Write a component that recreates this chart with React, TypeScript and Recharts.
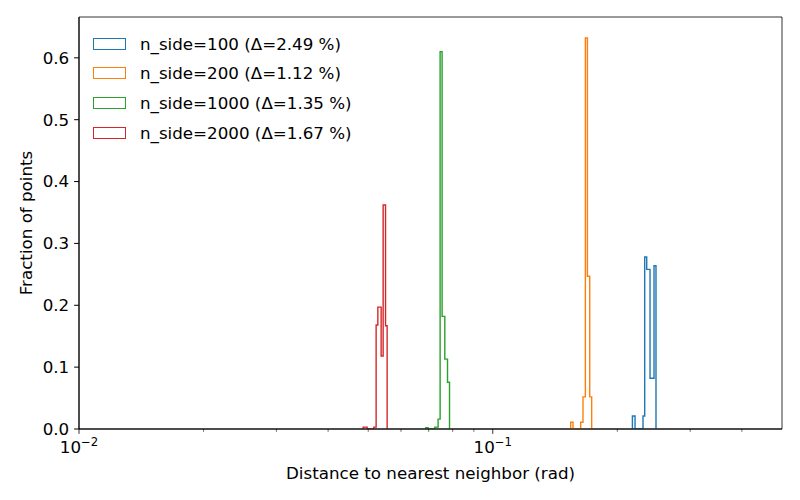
import React from 'react';
import { LineChart, Line, XAxis, YAxis, ReferenceArea } from 'recharts';

// Histogram bin edges (rad) and bin heights (fraction of points)
const edges100 = [0.2175, 0.2207, 0.2307, 0.2329, 0.2355, 0.2399, 0.2453, 0.248];
const heights100 = [0.021, 0, 0.021, 0.278, 0.258, 0.082, 0.264];

const edges200 = [0.1543, 0.1563, 0.1631, 0.1652, 0.1674, 0.1693, 0.1715, 0.1734];
const heights200 = [0.011, 0, 0.011, 0.052, 0.632, 0.247, 0.052];

const edges1000 = [0.06889, 0.06978, 0.07243, 0.07377, 0.0746, 0.07543, 0.07657, 0.07773, 0.0786];
const heights1000 = [0.002, 0, 0.003, 0.016, 0.61, 0.182, 0.113, 0.0755];

const edges2000 = [0.04861, 0.0497, 0.05159, 0.05225, 0.05275, 0.05373, 0.05433, 0.05506, 0.05555];
const heights2000 = [0.003, 0, 0.003, 0.168, 0.197, 0.118, 0.362, 0.167];

const seriesLabels = [
  'n_side=100 (Δ=2.49 %)',
  'n_side=200 (Δ=1.12 %)',
  'n_side=1000 (Δ=1.35 %)',
  'n_side=2000 (Δ=1.67 %)',
];
const seriesColors = ['#1f77b4', '#ff7f0e', '#2ca02c', '#d62728'];

const xDomain = [0.01, 0.5];
const yDomain = [0, 0.666];
const majorTicks = [0.01, 0.1];
const xTicks = [0.01, 0.02, 0.03, 0.04, 0.05, 0.06, 0.07, 0.08, 0.09, 0.1, 0.2, 0.3, 0.4];
const yTicks = [0, 0.1, 0.2, 0.3, 0.4, 0.5, 0.6];

const FONT = 'DejaVu Sans, sans-serif';

// outline of a step histogram: start at baseline, one point per bin, back to baseline
const toSteps = (edges: number[], heights: number[]) => {
  const pts = [{ x: edges[0], y: 0 }];
  heights.forEach((h, i) => pts.push({ x: edges[i], y: h }));
  pts.push({ x: edges[edges.length - 1], y: 0 });
  return pts;
};

const series = [
  toSteps(edges100, heights100),
  toSteps(edges200, heights200),
  toSteps(edges1000, heights1000),
  toSteps(edges2000, heights2000),
];

const XTick = (props: any) => {
  const { x, y, payload } = props;
  const v = payload.value;
  const major = majorTicks.some((m) => Math.abs(m - v) < 1e-9);
  const exp = Math.round(Math.log10(v));
  return (
    <g>
      <line x1={x} x2={x} y1={y} y2={y + (major ? 4.9 : 2.8)} stroke="#000" strokeWidth={major ? 0.8 : 0.6} />
      {major && (
        <text x={x} y={y + 24} textAnchor="middle" fontSize={16.7} fontFamily={FONT} fill="#000">
          10
          <tspan dy={-7} fontSize={11.7}>
            −{Math.abs(exp)}
          </tspan>
        </text>
      )}
    </g>
  );
};

const App = () => {
  return (
    <div style={{ position: 'relative', width: 800, height: 500, background: '#fff', fontFamily: FONT }}>
      <style>{'body{margin:0}'}</style>
      <LineChart width={800} height={500} data={series[0]} margin={{ top: 17, right: 18, left: 0, bottom: 0 }}>
        <XAxis
          dataKey="x"
          type="number"
          scale="log"
          domain={xDomain}
          allowDataOverflow
          ticks={xTicks}
          interval={0}
          tick={<XTick />}
          tickLine={false}
          tickSize={0}
          tickMargin={0}
          height={71}
          stroke="#000"
          label={(p: any) => {
            const vb = p.viewBox;
            return (
              <text x={vb.x + vb.width / 2} y={vb.y + 50} textAnchor="middle" fontSize={16.7} fontFamily={FONT} fill="#000">
                Distance to nearest neighbor (rad)
              </text>
            );
          }}
        />
        <YAxis
          type="number"
          domain={yDomain}
          allowDataOverflow
          ticks={yTicks}
          interval={0}
          tickFormatter={(v: number) => v.toFixed(1)}
          tick={{ fill: '#000', fontSize: 16.7, fontFamily: FONT }}
          tickSize={4.9}
          tickMargin={4.9}
          stroke="#000"
          width={79}
          label={(p: any) => {
            const vb = p.viewBox;
            const cx = vb.x + 26;
            const cy = vb.y + vb.height / 2;
            return (
              <text x={cx} y={cy} transform={`rotate(-90 ${cx} ${cy})`} textAnchor="middle" dominantBaseline="central" fontSize={16.7} fontFamily={FONT} fill="#000">
                Fraction of points
              </text>
            );
          }}
        />
        {/* axes frame */}
        <ReferenceArea x1={xDomain[0]} x2={xDomain[1]} y1={yDomain[0]} y2={yDomain[1]} fill="none" stroke="#000" strokeWidth={0.8} />
        {series.map((pts, i) => (
          <Line
            key={seriesLabels[i]}
            data={pts}
            dataKey="y"
            type="stepAfter"
            stroke={seriesColors[i]}
            strokeWidth={1.4}
            dot={false}
            activeDot={false}
            isAnimationActive={false}
          />
        ))}
      </LineChart>

      <div style={{ position: 'absolute', left: 93, top: 29 }}>
        {seriesLabels.map((label, i) => (
          <div key={label} style={{ display: 'flex', alignItems: 'center', height: 29.6 }}>
            <div
              style={{
                width: 31,
                height: 10,
                border: `1.4px solid ${seriesColors[i]}`,
                marginRight: 14,
              }}
            />
            <span style={{ fontSize: 16.7, color: '#000', whiteSpace: 'nowrap' }}>{label}</span>
          </div>
        ))}
      </div>
    </div>
  );
};

export default App;
